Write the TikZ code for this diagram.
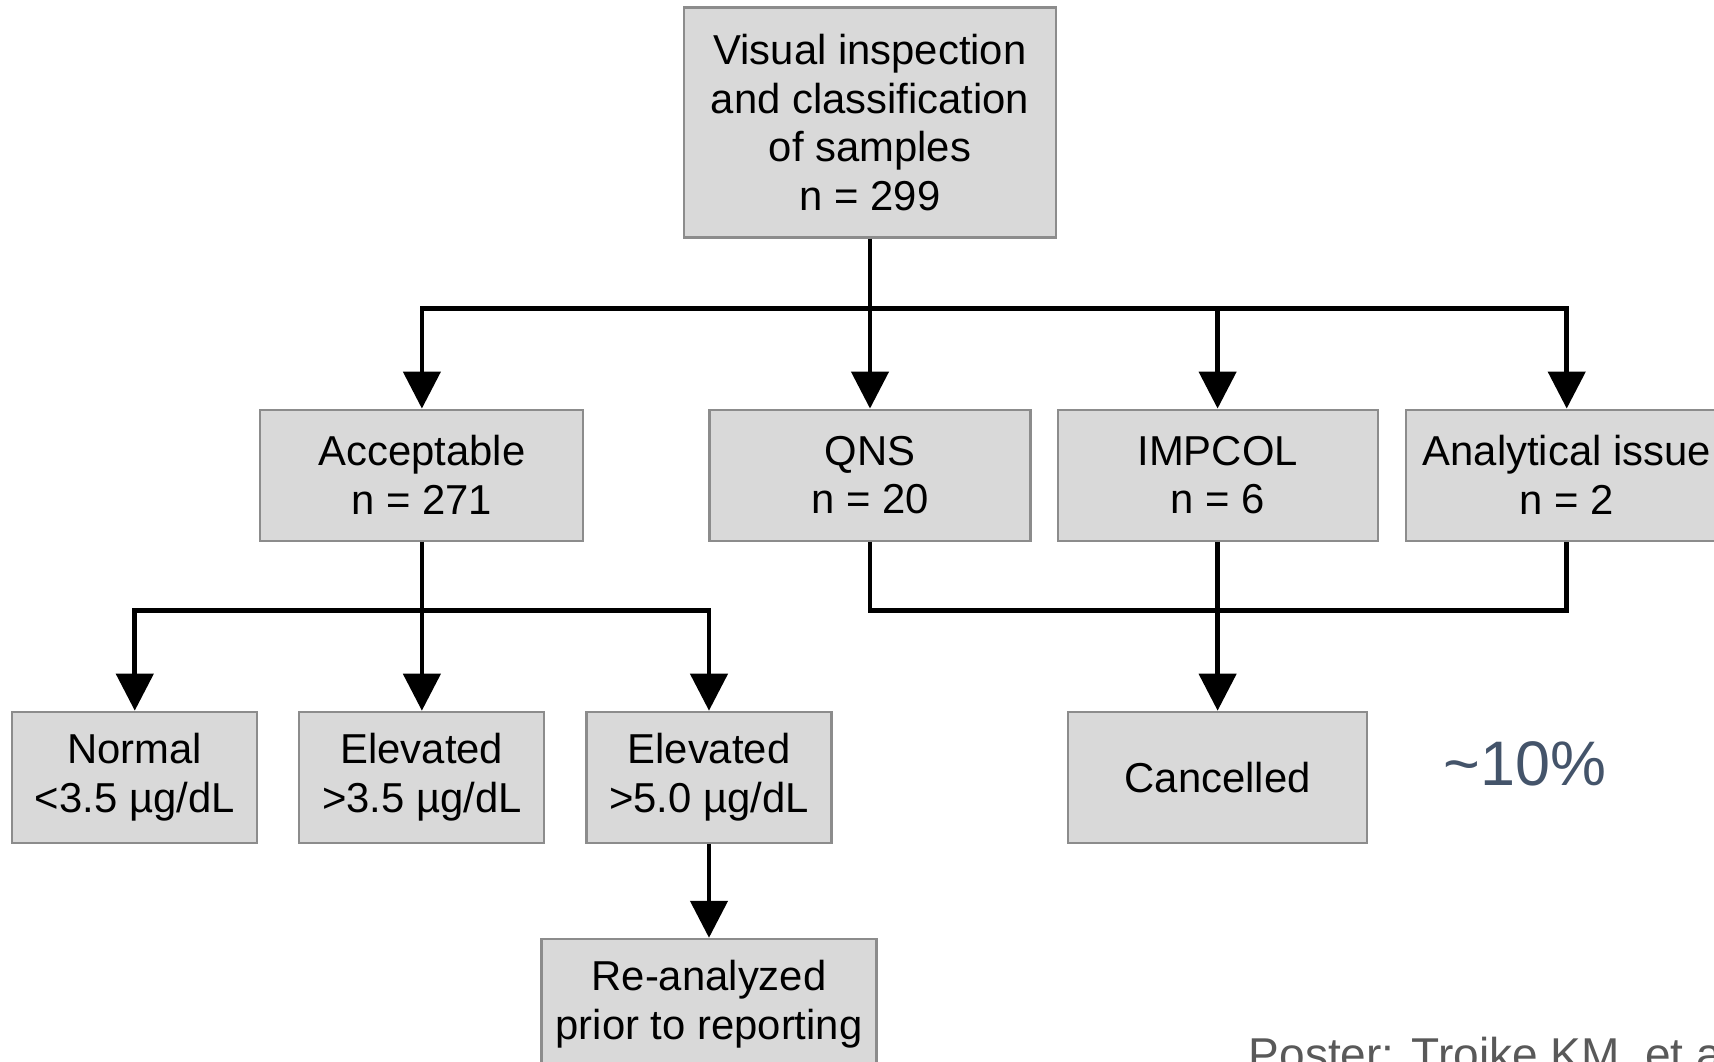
\documentclass[tikz,border=0pt]{standalone}
\usepackage{fontspec}
\setmainfont{Liberation Sans}
\usetikzlibrary{arrows.meta,positioning,calc}
\definecolor{boxfill}{HTML}{D9D9D9}
\definecolor{boxline}{HTML}{8C8C8C}
\definecolor{notecol}{HTML}{44546A}
\definecolor{refcol}{HTML}{595959}

\begin{document}
\begin{tikzpicture}[
      >={Triangle[width=3.7mm,length=3.7mm]},
      font=\fontsize{11.9pt}{13.9pt}\selectfont,
      box/.style ={rectangle, draw=boxline, fill=boxfill, line width=0.6pt,
                   inner sep=0pt, minimum height=1.31cm, align=center},
      flow/.style={line width=1.3pt}
    ]
    \path[use as bounding box, clip] (0,0) rectangle (17.14,-10.61);

    \node[box, minimum width=3.72cm, minimum height=2.30cm] (inspect) at (8.70,-1.225)
         {Visual inspection\\and classification\\of samples\\n = 299};

    \node[box, minimum width=3.21cm, below=1.70cm of inspect] (qns) {QNS\\n = 20};
    \node[box, minimum width=3.20cm, right=0.25cm of qns] (impcol) {IMPCOL\\n = 6};
    \node[box, minimum width=3.22cm, right=0.26cm of impcol] (issue) {Analytical issue\\n = 2};
    \node[box, minimum width=3.23cm, left=1.24cm of qns] (accept) {Acceptable\\n = 271};

    \node[box, minimum width=2.45cm, below=1.69cm of accept] (elev1) {Elevated\\>3.5 µg/dL};
    \node[box, minimum width=2.45cm, left=0.40cm of elev1] (normal) {Normal\\<3.5 µg/dL};
    \node[box, minimum width=2.45cm, right=0.40cm of elev1] (elev2) {Elevated\\>5.0 µg/dL};
    \node[box, minimum width=2.99cm, below=1.69cm of impcol] (cancel) {Cancelled};
    \node[box, minimum width=3.35cm, below=0.94cm of elev2] (reanalyze) {Re-analyzed\\prior to reporting};

    % first split
    \coordinate[below=0.70cm of inspect.south] (split_top);
    \draw[flow] (inspect.south) -- (split_top);
    \draw[flow,->] (split_top) -| (accept.north);
    \draw[flow,->] (split_top) -| (issue.north);
    \draw[flow,->] (split_top) -- (qns.north);
    \draw[flow,->] (split_top -| impcol.north) -- (impcol.north);

    % acceptable samples
    \coordinate[below=0.69cm of accept.south] (split_acc);
    \draw[flow] (accept.south) -- (split_acc);
    \draw[flow,->] (split_acc) -| (normal.north);
    \draw[flow,->] (split_acc) -| (elev2.north);
    \draw[flow,->] (split_acc) -- (elev1.north);
    \draw[flow,->] (elev2.south) -- (reanalyze.north);

    % rejected samples
    \coordinate[below=0.69cm of qns.south] (merge);
    \draw[flow] (qns.south) -- (merge) -| (issue.south);
    \draw[flow,->] (impcol.south) -- (cancel.north);

    \node[text=notecol, font=\fontsize{17.9pt}{20pt}\selectfont, anchor=base west,
          inner sep=0pt] (share) at (14.43,-7.85) {\textasciitilde10\%};
    \node[text=refcol, font=\fontsize{13.1pt}{15pt}\selectfont, anchor=base west,
          inner sep=0pt] (credit) at (12.48,-10.70) {Poster: Troike KM, et al.};
\end{tikzpicture}
\end{document}
